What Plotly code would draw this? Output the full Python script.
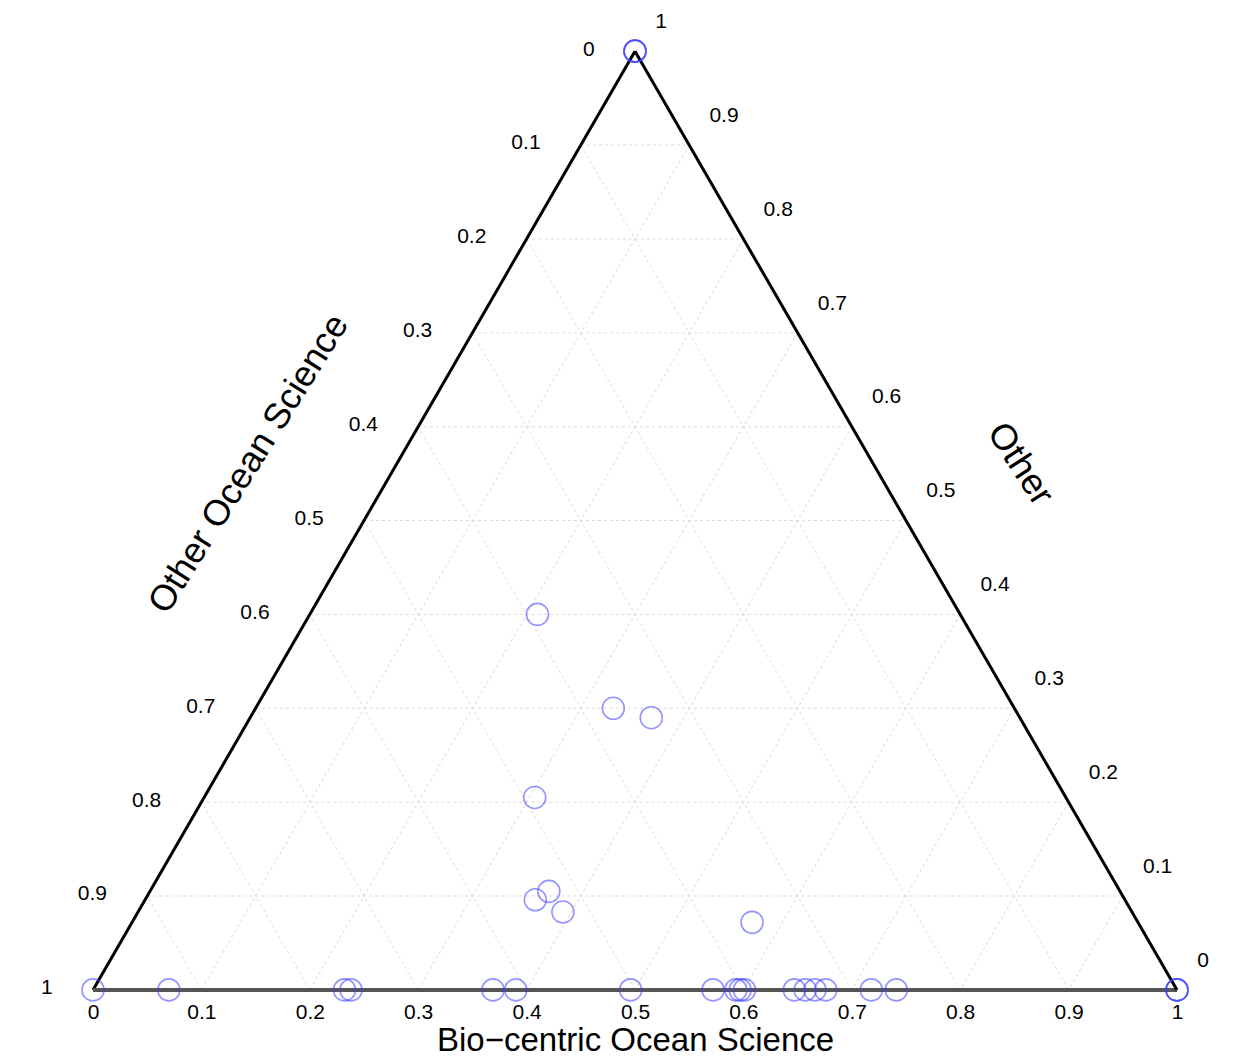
import plotly.graph_objects as go

# Data: each point as (Bio-centric, Other, Other Ocean Science) fractions
bio = [0.21, 0.33, 0.37, 0.305, 0.368, 0.360, 0.392, 0.572,
       0.0, 0.070, 0.232, 0.238, 0.369, 0.390, 0.496, 0.572, 0.593, 0.597, 0.601,
       0.647, 0.657, 0.666, 0.676, 0.718, 0.741,
       0.0, 0.0, 0.0, 1.0, 1.0, 1.0]
other = [0.40, 0.30, 0.29, 0.205, 0.105, 0.096, 0.083, 0.072,
         0.0, 0.0, 0.0, 0.0, 0.0, 0.0, 0.0, 0.0, 0.0, 0.0, 0.0,
         0.0, 0.0, 0.0, 0.0, 0.0, 0.0,
         1.0, 1.0, 1.0, 0.0, 0.0, 0.0]
ocean = [0.39, 0.37, 0.34, 0.49, 0.527, 0.544, 0.525, 0.356,
         1.0, 0.930, 0.768, 0.762, 0.631, 0.610, 0.504, 0.428, 0.407, 0.403, 0.399,
         0.353, 0.343, 0.334, 0.324, 0.282, 0.259,
         0.0, 0.0, 0.0, 0.0, 0.0, 0.0]

tick_vals = [0, 0.1, 0.2, 0.3, 0.4, 0.5, 0.6, 0.7, 0.8, 0.9, 1]
tick_text = ["1", "0.9", "0.8", "0.7", "0.6", "0.5", "0.4", "0.3", "0.2", "0.1", "0"]

FONT = "Liberation Sans, Arial, sans-serif"

fig = go.Figure()
fig.add_trace(go.Scatterternary(
    a=other, b=ocean, c=bio,
    mode="markers",
    marker=dict(symbol="circle-open", size=22,
                color="rgba(60,60,255,0.55)",
                line=dict(width=1.6, color="rgba(60,60,255,0.55)")),
    cliponaxis=False,
    showlegend=False,
))

tickfont = dict(family=FONT, size=21, color="black")

def ax(linecolor, linewidth, ticklen):
    return dict(
        title=dict(text=""),
        min=0,
        tickmode="array", tickvals=tick_vals, ticktext=tick_text,
        tickfont=tickfont,
        ticks="outside", ticklen=ticklen, tickcolor="rgba(0,0,0,0)",
        showline=True, linecolor=linecolor, linewidth=linewidth,
        showgrid=True, gridcolor="#dcdcdc", gridwidth=1, griddash="dot",
        layer="below traces",
    )

fig.update_layout(
    width=1241, height=1057,
    margin=dict(l=0, r=0, t=0, b=0),
    paper_bgcolor="white",
    ternary=dict(
        sum=1,
        bgcolor="white",
        domain=dict(x=[85/1241, 1169/1241], y=[0.0626, 0.9676]),
        aaxis=ax("black", 3, 36),
        baxis=ax("#555555", 4, 1),
        caxis=ax("black", 3, 32),
    ),
    annotations=[
        dict(text="Bio\u2212centric Ocean Science", x=627/1241, y=1-1031/1057,
             xref="paper", yref="paper", showarrow=False,
             xanchor="center", yanchor="middle",
             font=dict(family=FONT, size=33, color="black")),
        dict(text="Other Ocean Science", x=239/1241, y=1-455/1057,
             xref="paper", yref="paper", showarrow=False, textangle=-58,
             xanchor="center", yanchor="middle",
             font=dict(family=FONT, size=36, color="black")),
        dict(text="Other", x=1014/1241, y=1-455/1057,
             xref="paper", yref="paper", showarrow=False, textangle=57,
             xanchor="center", yanchor="middle",
             font=dict(family=FONT, size=36, color="black")),
    ],
)

fig.write_html("out.html")
